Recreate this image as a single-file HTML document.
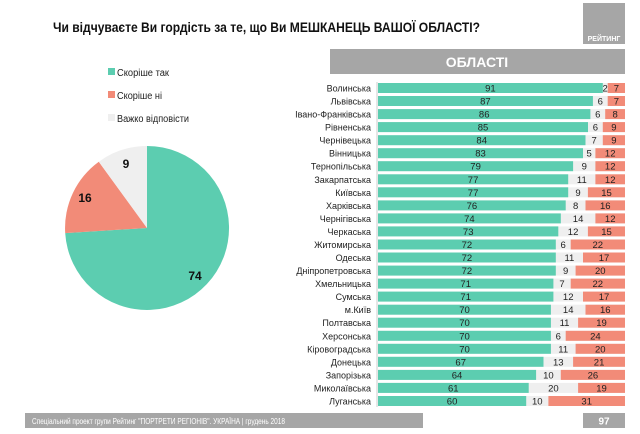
<!DOCTYPE html>
<html><head><meta charset="utf-8"><style>
html,body{margin:0;padding:0;background:#fff;}
svg{display:block;font-family:"Liberation Sans","DejaVu Sans",sans-serif;}
.l{font-size:9px;fill:#222;text-anchor:end;}
.v{font-size:9.5px;fill:#222;text-anchor:middle;}
</style></head><body>
<svg width="640" height="434" viewBox="0 0 640 434" xmlns="http://www.w3.org/2000/svg">
<rect x="583" y="3" width="42" height="41" fill="#a6a6a6"/>
<text x="604" y="41" font-size="7" font-weight="bold" fill="#fff" text-anchor="middle">РЕЙТИНГ</text>
<text x="53" y="32" font-size="14" font-weight="bold" fill="#111" textLength="427" lengthAdjust="spacingAndGlyphs">Чи відчуваєте Ви гордість за те, що Ви МЕШКАНЕЦЬ ВАШОЇ ОБЛАСТІ?</text>
<rect x="330" y="49" width="295" height="25" fill="#a6a6a6"/>
<text x="477" y="67" font-size="14" font-weight="bold" fill="#fff" text-anchor="middle">ОБЛАСТІ</text>
<rect x="108" y="68" width="7" height="7" fill="#5ccdb0"/><text x="117" y="76" font-size="10" fill="#222" textLength="52" lengthAdjust="spacingAndGlyphs">Скоріше так</text>
<rect x="108" y="91" width="7" height="7" fill="#f28b78"/><text x="117" y="99" font-size="10" fill="#222" textLength="45" lengthAdjust="spacingAndGlyphs">Скоріше ні</text>
<rect x="108" y="114" width="7" height="7" fill="#efefef"/><text x="117" y="122" font-size="10" fill="#222" textLength="72" lengthAdjust="spacingAndGlyphs">Важко відповісти</text>
<path d="M147,228 L147,146 A82,82 0 1,1 65.2,233.1 Z" fill="#5ccdb0"/>
<path d="M147,228 L65.2,233.1 A82,82 0 0,1 98.8,161.7 Z" fill="#f28b78"/>
<path d="M147,228 L98.8,161.7 A82,82 0 0,1 147,146 Z" fill="#efefef"/>
<text x="126" y="168" font-size="12" font-weight="bold" fill="#111" text-anchor="middle">9</text>
<text x="85" y="202" font-size="12" font-weight="bold" fill="#111" text-anchor="middle">16</text>
<text x="195" y="280" font-size="12" font-weight="bold" fill="#111" text-anchor="middle">74</text>
<line x1="377" y1="82" x2="377" y2="407" stroke="#ccc" stroke-width="1"/>
<g>
<rect x="378" y="83" width="247" height="10" fill="#efefef"/><rect x="378" y="83" width="224.8" height="10" fill="#5ccdb0"/><rect x="607.7" y="83" width="17.3" height="10" fill="#f28b78"/>
<text class="l" x="371" y="91.5">Волинська</text><text class="v" x="490.4" y="91.5">91</text><text class="v" x="605.2" y="91.5">2</text><text class="v" x="616.4" y="91.5">7</text>
<rect x="378" y="96" width="247" height="10" fill="#efefef"/><rect x="378" y="96" width="214.9" height="10" fill="#5ccdb0"/><rect x="607.7" y="96" width="17.3" height="10" fill="#f28b78"/>
<text class="l" x="371" y="104.5">Львівська</text><text class="v" x="485.4" y="104.5">87</text><text class="v" x="600.3" y="104.5">6</text><text class="v" x="616.4" y="104.5">7</text>
<rect x="378" y="109.1" width="247" height="10" fill="#efefef"/><rect x="378" y="109.1" width="212.4" height="10" fill="#5ccdb0"/><rect x="605.2" y="109.1" width="19.8" height="10" fill="#f28b78"/>
<text class="l" x="371" y="117.6">Івано-Франківська</text><text class="v" x="484.2" y="117.6">86</text><text class="v" x="597.8" y="117.6">6</text><text class="v" x="615.1" y="117.6">8</text>
<rect x="378" y="122.1" width="247" height="10" fill="#efefef"/><rect x="378" y="122.1" width="210" height="10" fill="#5ccdb0"/><rect x="602.8" y="122.1" width="22.2" height="10" fill="#f28b78"/>
<text class="l" x="371" y="130.6">Рівненська</text><text class="v" x="483" y="130.6">85</text><text class="v" x="595.4" y="130.6">6</text><text class="v" x="613.9" y="130.6">9</text>
<rect x="378" y="135.2" width="247" height="10" fill="#efefef"/><rect x="378" y="135.2" width="207.5" height="10" fill="#5ccdb0"/><rect x="602.8" y="135.2" width="22.2" height="10" fill="#f28b78"/>
<text class="l" x="371" y="143.7">Чернівецька</text><text class="v" x="481.7" y="143.7">84</text><text class="v" x="594.1" y="143.7">7</text><text class="v" x="613.9" y="143.7">9</text>
<rect x="378" y="148.2" width="247" height="10" fill="#efefef"/><rect x="378" y="148.2" width="205" height="10" fill="#5ccdb0"/><rect x="595.4" y="148.2" width="29.6" height="10" fill="#f28b78"/>
<text class="l" x="371" y="156.7">Вінницька</text><text class="v" x="480.5" y="156.7">83</text><text class="v" x="589.2" y="156.7">5</text><text class="v" x="610.2" y="156.7">12</text>
<rect x="378" y="161.2" width="247" height="10" fill="#efefef"/><rect x="378" y="161.2" width="195.1" height="10" fill="#5ccdb0"/><rect x="595.4" y="161.2" width="29.6" height="10" fill="#f28b78"/>
<text class="l" x="371" y="169.7">Тернопільська</text><text class="v" x="475.6" y="169.7">79</text><text class="v" x="584.3" y="169.7">9</text><text class="v" x="610.2" y="169.7">12</text>
<rect x="378" y="174.3" width="247" height="10" fill="#efefef"/><rect x="378" y="174.3" width="190.2" height="10" fill="#5ccdb0"/><rect x="595.4" y="174.3" width="29.6" height="10" fill="#f28b78"/>
<text class="l" x="371" y="182.8">Закарпатська</text><text class="v" x="473.1" y="182.8">77</text><text class="v" x="581.8" y="182.8">11</text><text class="v" x="610.2" y="182.8">12</text>
<rect x="378" y="187.3" width="247" height="10" fill="#efefef"/><rect x="378" y="187.3" width="190.2" height="10" fill="#5ccdb0"/><rect x="587.9" y="187.3" width="37.1" height="10" fill="#f28b78"/>
<text class="l" x="371" y="195.8">Київська</text><text class="v" x="473.1" y="195.8">77</text><text class="v" x="578" y="195.8">9</text><text class="v" x="606.5" y="195.8">15</text>
<rect x="378" y="200.4" width="247" height="10" fill="#efefef"/><rect x="378" y="200.4" width="187.7" height="10" fill="#5ccdb0"/><rect x="585.5" y="200.4" width="39.5" height="10" fill="#f28b78"/>
<text class="l" x="371" y="208.9">Харківська</text><text class="v" x="471.9" y="208.9">76</text><text class="v" x="575.6" y="208.9">8</text><text class="v" x="605.3" y="208.9">16</text>
<rect x="378" y="213.4" width="247" height="10" fill="#efefef"/><rect x="378" y="213.4" width="182.8" height="10" fill="#5ccdb0"/><rect x="595.4" y="213.4" width="29.6" height="10" fill="#f28b78"/>
<text class="l" x="371" y="221.9">Чернігівська</text><text class="v" x="469.4" y="221.9">74</text><text class="v" x="578.1" y="221.9">14</text><text class="v" x="610.2" y="221.9">12</text>
<rect x="378" y="226.4" width="247" height="10" fill="#efefef"/><rect x="378" y="226.4" width="180.3" height="10" fill="#5ccdb0"/><rect x="587.9" y="226.4" width="37.1" height="10" fill="#f28b78"/>
<text class="l" x="371" y="234.9">Черкаська</text><text class="v" x="468.2" y="234.9">73</text><text class="v" x="573.1" y="234.9">12</text><text class="v" x="606.5" y="234.9">15</text>
<rect x="378" y="239.5" width="247" height="10" fill="#efefef"/><rect x="378" y="239.5" width="177.8" height="10" fill="#5ccdb0"/><rect x="570.7" y="239.5" width="54.3" height="10" fill="#f28b78"/>
<text class="l" x="371" y="248">Житомирська</text><text class="v" x="466.9" y="248">72</text><text class="v" x="563.2" y="248">6</text><text class="v" x="597.8" y="248">22</text>
<rect x="378" y="252.5" width="247" height="10" fill="#efefef"/><rect x="378" y="252.5" width="177.8" height="10" fill="#5ccdb0"/><rect x="583" y="252.5" width="42" height="10" fill="#f28b78"/>
<text class="l" x="371" y="261">Одеська</text><text class="v" x="466.9" y="261">72</text><text class="v" x="569.4" y="261">11</text><text class="v" x="604" y="261">17</text>
<rect x="378" y="265.6" width="247" height="10" fill="#efefef"/><rect x="378" y="265.6" width="177.8" height="10" fill="#5ccdb0"/><rect x="575.6" y="265.6" width="49.4" height="10" fill="#f28b78"/>
<text class="l" x="371" y="274.1">Дніпропетровська</text><text class="v" x="466.9" y="274.1">72</text><text class="v" x="565.7" y="274.1">9</text><text class="v" x="600.3" y="274.1">20</text>
<rect x="378" y="278.6" width="247" height="10" fill="#efefef"/><rect x="378" y="278.6" width="175.4" height="10" fill="#5ccdb0"/><rect x="570.7" y="278.6" width="54.3" height="10" fill="#f28b78"/>
<text class="l" x="371" y="287.1">Хмельницька</text><text class="v" x="465.7" y="287.1">71</text><text class="v" x="562" y="287.1">7</text><text class="v" x="597.8" y="287.1">22</text>
<rect x="378" y="291.6" width="247" height="10" fill="#efefef"/><rect x="378" y="291.6" width="175.4" height="10" fill="#5ccdb0"/><rect x="583" y="291.6" width="42" height="10" fill="#f28b78"/>
<text class="l" x="371" y="300.1">Сумська</text><text class="v" x="465.7" y="300.1">71</text><text class="v" x="568.2" y="300.1">12</text><text class="v" x="604" y="300.1">17</text>
<rect x="378" y="304.7" width="247" height="10" fill="#efefef"/><rect x="378" y="304.7" width="172.9" height="10" fill="#5ccdb0"/><rect x="585.5" y="304.7" width="39.5" height="10" fill="#f28b78"/>
<text class="l" x="371" y="313.2">м.Київ</text><text class="v" x="464.5" y="313.2">70</text><text class="v" x="568.2" y="313.2">14</text><text class="v" x="605.3" y="313.2">16</text>
<rect x="378" y="317.7" width="247" height="10" fill="#efefef"/><rect x="378" y="317.7" width="172.9" height="10" fill="#5ccdb0"/><rect x="578.1" y="317.7" width="46.9" height="10" fill="#f28b78"/>
<text class="l" x="371" y="326.2">Полтавська</text><text class="v" x="464.5" y="326.2">70</text><text class="v" x="564.5" y="326.2">11</text><text class="v" x="601.5" y="326.2">19</text>
<rect x="378" y="330.8" width="247" height="10" fill="#efefef"/><rect x="378" y="330.8" width="172.9" height="10" fill="#5ccdb0"/><rect x="565.7" y="330.8" width="59.3" height="10" fill="#f28b78"/>
<text class="l" x="371" y="339.3">Херсонська</text><text class="v" x="464.5" y="339.3">70</text><text class="v" x="558.3" y="339.3">6</text><text class="v" x="595.4" y="339.3">24</text>
<rect x="378" y="343.8" width="247" height="10" fill="#efefef"/><rect x="378" y="343.8" width="172.9" height="10" fill="#5ccdb0"/><rect x="575.6" y="343.8" width="49.4" height="10" fill="#f28b78"/>
<text class="l" x="371" y="352.3">Кіровоградська</text><text class="v" x="464.5" y="352.3">70</text><text class="v" x="563.2" y="352.3">11</text><text class="v" x="600.3" y="352.3">20</text>
<rect x="378" y="356.8" width="247" height="10" fill="#efefef"/><rect x="378" y="356.8" width="165.5" height="10" fill="#5ccdb0"/><rect x="573.1" y="356.8" width="51.9" height="10" fill="#f28b78"/>
<text class="l" x="371" y="365.3">Донецька</text><text class="v" x="460.7" y="365.3">67</text><text class="v" x="558.3" y="365.3">13</text><text class="v" x="599.1" y="365.3">21</text>
<rect x="378" y="369.9" width="247" height="10" fill="#efefef"/><rect x="378" y="369.9" width="158.1" height="10" fill="#5ccdb0"/><rect x="560.8" y="369.9" width="64.2" height="10" fill="#f28b78"/>
<text class="l" x="371" y="378.4">Запорізька</text><text class="v" x="457" y="378.4">64</text><text class="v" x="548.4" y="378.4">10</text><text class="v" x="592.9" y="378.4">26</text>
<rect x="378" y="382.9" width="247" height="10" fill="#efefef"/><rect x="378" y="382.9" width="150.7" height="10" fill="#5ccdb0"/><rect x="578.1" y="382.9" width="46.9" height="10" fill="#f28b78"/>
<text class="l" x="371" y="391.4">Миколаївська</text><text class="v" x="453.3" y="391.4">61</text><text class="v" x="553.4" y="391.4">20</text><text class="v" x="601.5" y="391.4">19</text>
<rect x="378" y="396" width="247" height="10" fill="#efefef"/><rect x="378" y="396" width="148.2" height="10" fill="#5ccdb0"/><rect x="548.4" y="396" width="76.6" height="10" fill="#f28b78"/>
<text class="l" x="371" y="404.5">Луганська</text><text class="v" x="452.1" y="404.5">60</text><text class="v" x="537.3" y="404.5">10</text><text class="v" x="586.7" y="404.5">31</text>
</g>
<rect x="25" y="413" width="398" height="15" fill="#a6a6a6"/>
<text x="32" y="424" font-size="8.5" fill="#fff" textLength="253" lengthAdjust="spacingAndGlyphs">Спеціальний проект групи Рейтинг "ПОРТРЕТИ РЕГІОНІВ". УКРАЇНА | грудень 2018</text>
<rect x="583" y="413" width="42" height="15" fill="#a6a6a6"/>
<text x="604" y="424.5" font-size="10" font-weight="bold" fill="#fff" text-anchor="middle">97</text>
</svg>
</body></html>
